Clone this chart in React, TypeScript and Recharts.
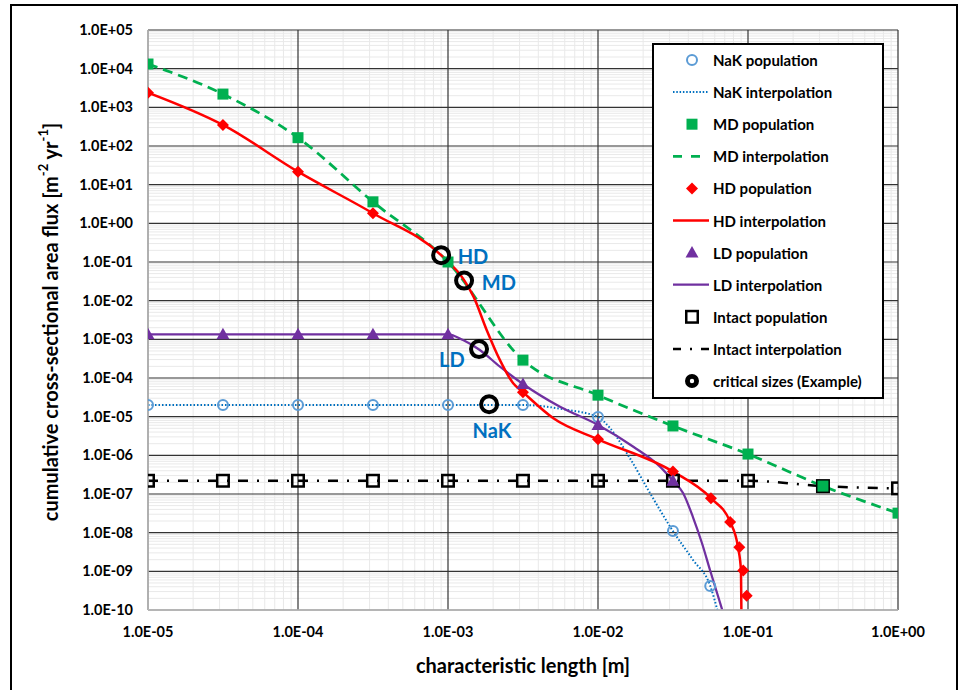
import React from 'react';
import { ComposedChart, Line, Scatter, XAxis, YAxis, CartesianGrid, Legend } from 'recharts';

const FONT = "Lato, 'Noto Sans', 'DejaVu Sans', sans-serif";

// ---- axes ----
const xTicks = [1e-5, 1e-4, 1e-3, 1e-2, 1e-1, 1];
const xTickLabels = ['1.0E-05', '1.0E-04', '1.0E-03', '1.0E-02', '1.0E-01', '1.0E+00'];
const yTicks = [1e-10, 1e-9, 1e-8, 1e-7, 1e-6, 1e-5, 1e-4, 1e-3, 1e-2, 1e-1, 1, 1e1, 1e2, 1e3, 1e4, 1e5];
const yTickLabels = ['1.0E-10', '1.0E-09', '1.0E-08', '1.0E-07', '1.0E-06', '1.0E-05', '1.0E-04', '1.0E-03', '1.0E-02', '1.0E-01', '1.0E+00', '1.0E+01', '1.0E+02', '1.0E+03', '1.0E+04', '1.0E+05'];
const minorMultipliers = [2, 3, 4, 5, 6, 7, 8, 9];
const xDecades = [1e-5, 1e-4, 1e-3, 1e-2, 1e-1];
const yDecades = [1e-10, 1e-9, 1e-8, 1e-7, 1e-6, 1e-5, 1e-4, 1e-3, 1e-2, 1e-1, 1, 1e1, 1e2, 1e3, 1e4];

// ---- data ----
const nakPopulation = [
  { x: 1e-5, y: 2.0e-5 }, { x: 3.16e-5, y: 2.0e-5 }, { x: 1e-4, y: 2.0e-5 }, { x: 3.16e-4, y: 2.0e-5 },
  { x: 1e-3, y: 2.0e-5 }, { x: 3.16e-3, y: 2.0e-5 }, { x: 1e-2, y: 9.8e-6 }, { x: 3.16e-2, y: 1.1e-8 },
  { x: 5.6e-2, y: 4.2e-10 },
];
const nakInterpolation = [
  { x: 1e-5, y: 2.0e-5 }, { x: 3.16e-5, y: 2.0e-5 }, { x: 1e-4, y: 2.0e-5 }, { x: 3.16e-4, y: 2.0e-5 },
  { x: 1e-3, y: 2.0e-5 }, { x: 3.16e-3, y: 2.0e-5 }, { x: 6.2e-3, y: 1.5e-5 }, { x: 1e-2, y: 9.8e-6 },
  { x: 1.2e-2, y: 5.1e-6 }, { x: 1.63e-2, y: 8.5e-7 }, { x: 2.22e-2, y: 1.06e-7 }, { x: 3.16e-2, y: 1.1e-8 },
  { x: 4.3e-2, y: 1.97e-9 }, { x: 5.6e-2, y: 4.2e-10 }, { x: 6.3e-2, y: 8.9e-11 },
];
const mdPopulation = [
  { x: 1e-5, y: 1.32e4 }, { x: 3.16e-5, y: 2.2e3 }, { x: 1e-4, y: 164 }, { x: 3.16e-4, y: 3.6 },
  { x: 1e-3, y: 0.1 }, { x: 3.16e-3, y: 2.9e-4 }, { x: 1e-2, y: 3.6e-5 }, { x: 3.16e-2, y: 5.75e-6 },
  { x: 1e-1, y: 1.08e-6 }, { x: 3.16e-1, y: 1.6e-7 }, { x: 1, y: 3.2e-8 },
];
const mdInterpolation = [
  { x: 1e-5, y: 1.32e4 }, { x: 3.16e-5, y: 2.2e3 }, { x: 1e-4, y: 164 }, { x: 3.16e-4, y: 3.6 },
  { x: 1e-3, y: 0.1 }, { x: 3.16e-3, y: 2.9e-4 }, { x: 1e-2, y: 3.6e-5 }, { x: 3.16e-2, y: 5.75e-6 },
  { x: 1e-1, y: 1.08e-6 }, { x: 3.16e-1, y: 1.6e-7 }, { x: 1, y: 3.2e-8 },
];
const hdPopulation = [
  { x: 1e-5, y: 2.4e3 }, { x: 3.16e-5, y: 350 }, { x: 1e-4, y: 21.7 }, { x: 3.16e-4, y: 1.82 },
  { x: 3.16e-3, y: 4.3e-5 }, { x: 1e-2, y: 2.6e-6 }, { x: 3.16e-2, y: 3.8e-7 }, { x: 5.66e-2, y: 7.8e-8 },
  { x: 7.6e-2, y: 1.9e-8 }, { x: 8.75e-2, y: 4.2e-9 }, { x: 9.3e-2, y: 1.05e-9 }, { x: 9.8e-2, y: 2.35e-10 },
];
const hdInterpolation = [
  { x: 1e-5, y: 2.4e3 }, { x: 3.16e-5, y: 350 }, { x: 1e-4, y: 21.7 }, { x: 3.16e-4, y: 1.82 },
  { x: 9.0e-4, y: 0.15 }, { x: 1.28e-3, y: 0.034 }, { x: 1.48e-3, y: 0.0127 }, { x: 1.81e-3, y: 1.75e-3 },
  { x: 2.22e-3, y: 2.9e-4 }, { x: 2.72e-3, y: 7.3e-5 }, { x: 3.16e-3, y: 4.3e-5 }, { x: 5.04e-3, y: 9.1e-6 },
  { x: 1e-2, y: 2.6e-6 }, { x: 3.16e-2, y: 3.8e-7 }, { x: 5.66e-2, y: 7.8e-8 }, { x: 7.6e-2, y: 1.9e-8 },
  { x: 8.58e-2, y: 4.2e-9 }, { x: 8.98e-2, y: 1.05e-9 }, { x: 9.05e-2, y: 5e-11 },
];
const ldPopulation = [
  { x: 1e-5, y: 1.35e-3 }, { x: 3.16e-5, y: 1.35e-3 }, { x: 1e-4, y: 1.35e-3 }, { x: 3.16e-4, y: 1.35e-3 },
  { x: 1e-3, y: 1.35e-3 }, { x: 3.16e-3, y: 7.0e-5 }, { x: 1e-2, y: 6.1e-6 }, { x: 3.16e-2, y: 2.2e-7 },
];
const ldInterpolation = [
  { x: 1e-5, y: 1.35e-3 }, { x: 3.16e-5, y: 1.35e-3 }, { x: 1e-4, y: 1.35e-3 }, { x: 3.16e-4, y: 1.35e-3 },
  { x: 1e-3, y: 1.35e-3 }, { x: 1.26e-3, y: 9.6e-4 }, { x: 1.63e-3, y: 5.3e-4 }, { x: 2.22e-3, y: 1.96e-4 },
  { x: 3.16e-3, y: 7.0e-5 }, { x: 5.58e-3, y: 1.8e-5 }, { x: 1e-2, y: 6.1e-6 }, { x: 1.72e-2, y: 1.67e-6 },
  { x: 2.59e-2, y: 5.1e-7 }, { x: 3.16e-2, y: 2.2e-7 }, { x: 3.69e-2, y: 1.06e-7 }, { x: 4.3e-2, y: 2.5e-8 },
  { x: 4.93e-2, y: 5.4e-9 }, { x: 5.58e-2, y: 1.08e-9 }, { x: 6.8e-2, y: 8.9e-11 },
];
const intactPopulation = [
  { x: 1e-5, y: 2.2e-7 }, { x: 3.16e-5, y: 2.2e-7 }, { x: 1e-4, y: 2.2e-7 }, { x: 3.16e-4, y: 2.2e-7 },
  { x: 1e-3, y: 2.2e-7 }, { x: 3.16e-3, y: 2.2e-7 }, { x: 1e-2, y: 2.2e-7 }, { x: 3.16e-2, y: 2.2e-7 },
  { x: 1e-1, y: 2.2e-7 }, { x: 3.16e-1, y: 1.6e-7 }, { x: 1, y: 1.4e-7 },
];
const intactInterpolation = [
  { x: 1e-5, y: 2.2e-7 }, { x: 3.16e-5, y: 2.2e-7 }, { x: 1e-4, y: 2.2e-7 }, { x: 3.16e-4, y: 2.2e-7 },
  { x: 1e-3, y: 2.2e-7 }, { x: 3.16e-3, y: 2.2e-7 }, { x: 1e-2, y: 2.2e-7 }, { x: 3.16e-2, y: 2.2e-7 },
  { x: 1e-1, y: 2.2e-7 }, { x: 3.16e-1, y: 1.6e-7 }, { x: 1, y: 1.4e-7 },
];
const criticalSizes = [
  { x: 9.0e-4, y: 0.15, name: 'HD' },
  { x: 1.28e-3, y: 0.033, name: 'MD' },
  { x: 1.61e-3, y: 5.6e-4, name: 'LD' },
  { x: 1.88e-3, y: 2.1e-5, name: 'NaK' },
];

// ---- styling ----
const C_NAK = '#5B9BD5';
const C_NAK_LINE = '#0070C0';
const C_MD = '#00B050';
const C_HD = '#FF0000';
const C_LD = '#7030A0';
const C_LABEL = '#0070C0';
const critLabelOffsets: Record<string, [number, number]> = {
  HD: [16.5, 0.7],
  MD: [17.7, 1.5],
  LD: [-40, 10],
  NaK: [-16.5, 25.8],
};

const legendItems = [
  { label: 'NaK population', kind: 'nakM' },
  { label: 'NaK interpolation', kind: 'nakL' },
  { label: 'MD population', kind: 'mdM' },
  { label: 'MD interpolation', kind: 'mdL' },
  { label: 'HD population', kind: 'hdM' },
  { label: 'HD interpolation', kind: 'hdL' },
  { label: 'LD population', kind: 'ldM' },
  { label: 'LD interpolation', kind: 'ldL' },
  { label: 'Intact population', kind: 'inM' },
  { label: 'Intact interpolation', kind: 'inL' },
  { label: 'critical sizes (Example)', kind: 'crit' },
];

const labelFor = (ticks: number[], labels: string[]) => (v: number) => {
  const i = ticks.findIndex((t) => Math.abs(Math.log10(t) - Math.log10(v)) < 1e-6);
  return i >= 0 ? labels[i] : '';
};

const applyScale = (axis: any, v: number): number => {
  const s = axis && axis.scale;
  if (!s) return NaN;
  if (typeof s === 'function') return s(v);
  if (typeof s.map === 'function') return s.map(v);
  return NaN;
};

const minorValues = (decades: number[]) => {
  const out: number[] = [];
  decades.forEach((d) => minorMultipliers.forEach((m) => out.push(d * m)));
  return out;
};
const minorX = minorValues(xDecades);
const minorY = minorValues(yDecades);

const minorVertical = (p: any) => minorX.map((v) => applyScale(p && p.xAxis, v)).filter((n) => Number.isFinite(n));
const minorHorizontal = (p: any) => minorY.map((v) => applyScale(p && p.yAxis, v)).filter((n) => Number.isFinite(n));

// ---- marker shapes ----
const NakMarker = (p: any) => <circle cx={p.cx} cy={p.cy} r={5} fill="none" stroke={C_NAK} strokeWidth={2} />;
const MdMarker = (p: any) => <rect x={p.cx - 5.5} y={p.cy - 5.5} width={11} height={11} fill={C_MD} />;
const HdMarker = (p: any) => (
  <polygon points={`${p.cx},${p.cy - 6} ${p.cx + 6},${p.cy} ${p.cx},${p.cy + 6} ${p.cx - 6},${p.cy}`} fill={C_HD} />
);
const LdMarker = (p: any) => (
  <polygon points={`${p.cx},${p.cy - 6.5} ${p.cx + 6.5},${p.cy + 5} ${p.cx - 6.5},${p.cy + 5}`} fill={C_LD} />
);
const IntactMarker = (p: any) => (
  <rect x={p.cx - 5.75} y={p.cy - 5.75} width={11.5} height={11.5} fill="none" stroke="#000" strokeWidth={2.5} />
);
const CritMarker = (p: any) => {
  const name = p.payload && p.payload.name;
  const off = critLabelOffsets[name] || [0, 0];
  return (
    <g>
      <circle cx={p.cx} cy={p.cy} r={8} fill="none" stroke="#000" strokeWidth={4} />
      <text
        x={p.cx + off[0]}
        y={p.cy + off[1]}
        dominantBaseline="central"
        style={{ fontFamily: FONT, fontWeight: 700, fontSize: 20, fill: C_LABEL }}
      >
        {name}
      </text>
    </g>
  );
};

const LegendIcon = ({ kind, cy }: { kind: string; cy: number }) => {
  const cx = 40;
  switch (kind) {
    case 'nakM':
      return <circle cx={cx} cy={cy} r={5} fill="none" stroke={C_NAK} strokeWidth={2} />;
    case 'nakL':
      return <line x1={21} x2={57} y1={cy} y2={cy} stroke={C_NAK_LINE} strokeWidth={2} strokeDasharray="1.5 1.8" />;
    case 'mdM':
      return <rect x={cx - 5.5} y={cy - 5.5} width={11} height={11} fill={C_MD} />;
    case 'mdL':
      return <line x1={21} x2={57} y1={cy} y2={cy} stroke={C_MD} strokeWidth={2.75} strokeDasharray="9 9" />;
    case 'hdM':
      return <polygon points={`${cx},${cy - 6} ${cx + 6},${cy} ${cx},${cy + 6} ${cx - 6},${cy}`} fill={C_HD} />;
    case 'hdL':
      return <line x1={21} x2={57} y1={cy} y2={cy} stroke={C_HD} strokeWidth={2.5} />;
    case 'ldM':
      return <polygon points={`${cx},${cy - 6.5} ${cx + 6.5},${cy + 5} ${cx - 6.5},${cy + 5}`} fill={C_LD} />;
    case 'ldL':
      return <line x1={21} x2={57} y1={cy} y2={cy} stroke={C_LD} strokeWidth={2.25} />;
    case 'inM':
      return <rect x={cx - 5.75} y={cy - 5.75} width={11.5} height={11.5} fill="none" stroke="#000" strokeWidth={2.5} />;
    case 'inL':
      return <line x1={21} x2={57} y1={cy} y2={cy} stroke="#000" strokeWidth={2.5} strokeDasharray="8 9 2 9" />;
    case 'crit':
      return <circle cx={cx} cy={cy} r={4.6} fill="#fff" stroke="#000" strokeWidth={4.8} />;
    default:
      return null;
  }
};

const LegendBox = () => (
  <svg width={232} height={356} style={{ display: 'block' }}>
    <rect x={1} y={1} width={230} height={354} fill="#fff" stroke="#000" strokeWidth={2} />
    {legendItems.map((it, i) => {
      const cy = 17 + i * 32.1;
      return (
        <g key={it.label}>
          <LegendIcon kind={it.kind} cy={cy} />
          <text
            x={61}
            y={cy}
            dominantBaseline="central"
            style={{ fontFamily: FONT, fontWeight: 700, fontSize: 15, fill: '#000' }}
          >
            {it.label}
          </text>
        </g>
      );
    })}
  </svg>
);

const YTitle = (props: any) => {
  const vb = props.viewBox || { x: 48, y: 30, width: 100, height: 580 };
  const cx = vb.x + 2;
  const cy = vb.y + vb.height / 2 + 2;
  return (
    <text
      x={cx}
      y={cy}
      transform={`rotate(-90 ${cx} ${cy})`}
      textAnchor="middle"
      dominantBaseline="central"
      style={{ fontFamily: FONT, fontWeight: 700, fontSize: 20, fill: '#000' }}
    >
      cumulative cross-sectional area flux [m
      <tspan dy={-7} style={{ fontSize: 13 }}>-2</tspan>
      <tspan dy={7}> yr</tspan>
      <tspan dy={-7} style={{ fontSize: 13 }}>-1</tspan>
      <tspan dy={7}>]</tspan>
    </text>
  );
};

const XTitle = (props: any) => {
  const vb = props.viewBox || { x: 148, y: 610, width: 750, height: 40 };
  const cx = vb.x + vb.width / 2;
  const cy = vb.y + 55;
  return (
    <text
      x={cx}
      y={cy}
      textAnchor="middle"
      dominantBaseline="central"
      style={{ fontFamily: FONT, fontWeight: 700, fontSize: 20, fill: '#000' }}
    >
      characteristic length [m]
    </text>
  );
};

const tickStyle = { fontFamily: FONT, fontWeight: 700, fontSize: 14.5, fill: '#000' };

export default function App() {
  return (
    <div style={{ position: 'absolute', left: 0, top: 0, width: 961, height: 690, overflow: 'hidden', background: '#fff' }}>
      <div
        style={{
          position: 'absolute',
          left: 10,
          top: 4,
          width: 944,
          height: 720,
          border: '2px solid #000',
        }}
      />
      <div style={{ position: 'absolute', left: 0, top: 0 }}>
        <ComposedChart width={961} height={690} margin={{ top: 30, right: 63, bottom: 40, left: 48 }}>
          <CartesianGrid
            stroke="#E9E9E9"
            strokeWidth={1}
            horizontalCoordinatesGenerator={minorHorizontal}
            verticalCoordinatesGenerator={minorVertical}
          />
          <CartesianGrid stroke="#333333" strokeWidth={1.2} />
          <XAxis
            dataKey="x"
            type="number"
            scale="log"
            domain={[1e-5, 1]}
            allowDataOverflow
            ticks={xTicks}
            interval={0}
            tickFormatter={labelFor(xTicks, xTickLabels)}
            height={40}
            tickLine={false}
            tickSize={0}
            tickMargin={17}
            axisLine={{ stroke: '#BFBFBF', strokeWidth: 1.5 }}
            tick={tickStyle}
            label={<XTitle />}
          />
          <XAxis
            xAxisId="top"
            orientation="top"
            type="number"
            scale="log"
            domain={[1e-5, 1]}
            allowDataOverflow
            height={0}
            tick={false}
            tickLine={false}
            axisLine={{ stroke: '#BFBFBF', strokeWidth: 1.5 }}
          />
          <YAxis
            dataKey="y"
            type="number"
            scale="log"
            domain={[1e-10, 1e5]}
            allowDataOverflow
            ticks={yTicks}
            interval={0}
            tickFormatter={labelFor(yTicks, yTickLabels)}
            width={100}
            tickLine={false}
            tickSize={0}
            tickMargin={15}
            axisLine={{ stroke: '#BFBFBF', strokeWidth: 1.5 }}
            tick={tickStyle}
            label={<YTitle />}
          />
          <YAxis
            yAxisId="right"
            orientation="right"
            type="number"
            scale="log"
            domain={[1e-10, 1e5]}
            allowDataOverflow
            width={0}
            tick={false}
            tickLine={false}
            axisLine={{ stroke: '#BFBFBF', strokeWidth: 1.5 }}
          />
          <Legend
            layout="vertical"
            align="center"
            verticalAlign="middle"
            wrapperStyle={{ left: 652, top: 43, width: 232, height: 356 }}
            content={() => <LegendBox />}
          />

          <Line data={intactInterpolation} dataKey="y" type="monotone" stroke="#000" strokeWidth={2.5}
            strokeDasharray="10 9 2 9" dot={false} activeDot={false} isAnimationActive={false} legendType="none" />
          <Line data={mdInterpolation} dataKey="y" type="monotone" stroke={C_MD} strokeWidth={2.75}
            strokeDasharray="10 6" dot={false} activeDot={false} isAnimationActive={false} legendType="none" />
          <Line data={nakInterpolation} dataKey="y" type="monotone" stroke={C_NAK_LINE} strokeWidth={2}
            strokeDasharray="1.5 2" dot={false} activeDot={false} isAnimationActive={false} legendType="none" />
          <Line data={ldInterpolation} dataKey="y" type="monotone" stroke={C_LD} strokeWidth={2.25}
            dot={false} activeDot={false} isAnimationActive={false} legendType="none" />
          <Line data={hdInterpolation} dataKey="y" type="monotone" stroke={C_HD} strokeWidth={2.5}
            dot={false} activeDot={false} isAnimationActive={false} legendType="none" />

          <Scatter data={intactPopulation} shape={IntactMarker} isAnimationActive={false} legendType="none" />
          <Scatter data={nakPopulation} shape={NakMarker} isAnimationActive={false} legendType="none" />
          <Scatter data={mdPopulation} shape={MdMarker} isAnimationActive={false} legendType="none" />
          <Scatter data={hdPopulation} shape={HdMarker} isAnimationActive={false} legendType="none" />
          <Scatter data={ldPopulation} shape={LdMarker} isAnimationActive={false} legendType="none" />
          <Scatter data={criticalSizes} shape={CritMarker} isAnimationActive={false} legendType="none" />
        </ComposedChart>
      </div>
    </div>
  );
}
